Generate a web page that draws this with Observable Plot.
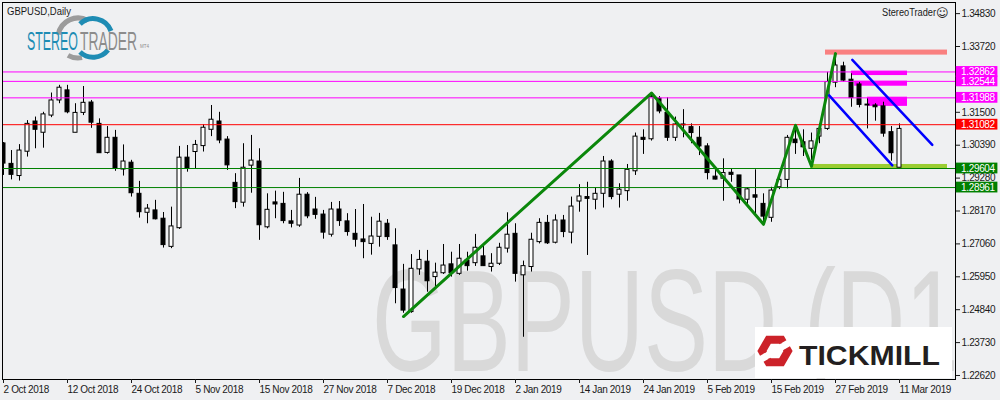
<!DOCTYPE html>
<html><head><meta charset="utf-8">
<script src="https://cdn.jsdelivr.net/npm/d3@7"></script>
<script src="https://cdn.jsdelivr.net/npm/@observablehq/plot@0.6"></script>
<style>
html,body{margin:0;padding:0;background:#eff0f2;}
#wrap{position:relative;width:1000px;height:400px;overflow:hidden;background:#eff0f2;font-family:"Liberation Sans",Arial,sans-serif;}
#wm{position:absolute;left:2px;top:2px;width:953px;height:377px;overflow:hidden;}
#chart{position:absolute;left:0;top:0;}
#over{position:absolute;left:0;top:0;}
</style></head><body>
<div id="wrap">
  <div id="wm"><svg width="953" height="377"><text transform="translate(370,369) scale(1,1.5)" font-family="Liberation Sans, Arial, sans-serif" font-size="96" fill="#d9d9d9">GBPUSD (D1</text></svg></div>
  <div id="chart"></div>
  <svg id="over" width="1000" height="400">
    <text x="7" y="15" font-family="Liberation Sans, Arial, sans-serif" font-size="10.5" fill="#1a1a1a" textLength="64" lengthAdjust="spacingAndGlyphs">GBPUSD,Daily</text>
    <text x="882" y="16" font-family="Liberation Sans, Arial, sans-serif" font-size="10" fill="#1a1a1a" textLength="54" lengthAdjust="spacingAndGlyphs">StereoTrader</text>
    <text x="936" y="17" font-family="DejaVu Sans, sans-serif" font-size="12" fill="#1a1a1a">☺</text>
    <!-- StereoTrader logo -->
    <path d="M58.3,34.5 A20,20 0 0 1 88,20.7" fill="none" stroke="#9b9b9b" stroke-width="5"/>
    <path d="M82,57.6 A20,20 0 0 1 68,55.3" fill="none" stroke="#9b9b9b" stroke-width="5"/>
    <path d="M80,24 A19,19 0 0 1 111,31" fill="none" stroke="#1e8cb4" stroke-width="5"/>
    <path d="M108,50 A19,19 0 0 1 80,52" fill="none" stroke="#1e8cb4" stroke-width="5"/>
    <text x="27" y="50" font-family="Liberation Sans, Arial, sans-serif" font-size="25" fill="#1e8cb4" textLength="51" lengthAdjust="spacingAndGlyphs">STEREO</text>
    <text x="80" y="50" font-family="Liberation Sans, Arial, sans-serif" font-size="25" fill="#8c8c8c" textLength="57" lengthAdjust="spacingAndGlyphs">TRADER</text>
    <text x="140" y="48" font-family="Liberation Sans, Arial, sans-serif" font-size="4.5" fill="#8c8c8c">MT4</text>
    <!-- Tickmill logo -->
    <rect x="755" y="327" width="197" height="51" fill="#ffffff"/>
    <path d="M788,351 L781.5,362.3 L768.5,362.3 L762,351 L768.5,339.7 L781.5,339.7 Z" fill="none" stroke="#cc2229" stroke-width="8" stroke-dasharray="32 7" stroke-dashoffset="3"/>
    <text x="799" y="365" font-family="Liberation Sans, Arial, sans-serif" font-weight="bold" font-size="28" fill="#231f20" textLength="141" lengthAdjust="spacingAndGlyphs">TICKMILL</text>
  </svg>
</div>
<script>
// ---- data ----
const opens  = [1.3045,1.2976,1.2935,1.3017,1.3119,1.3081,1.3139,1.3190,1.3224,1.3081,1.3148,1.3183,1.3111,1.3013,1.3064,1.2957,1.2980,1.2875,1.2811,1.2819,1.2791,1.2696,1.2759,1.2997,1.3016,1.3036,1.3091,1.3119,1.3058,1.2912,1.2845,1.2970,1.2984,1.2762,1.2846,1.2841,1.2782,1.2768,1.2872,1.2822,1.2805,1.2737,1.2822,1.2782,1.2740,1.2721,1.2706,1.2730,1.2774,1.2701,1.2552,1.2476,1.2620,1.2646,1.2594,1.2607,1.2637,1.2605,1.2650,1.2641,1.2664,1.2628,1.2639,1.2690,1.2740,1.2600,1.2628,1.2712,1.2777,1.2710,1.2785,1.2744,1.2849,1.2864,1.2855,1.2875,1.2984,1.2872,1.2884,1.2951,1.3064,1.3059,1.3196,1.3148,1.3064,1.3106,1.3100,1.3064,1.3035,1.2933,1.2926,1.2946,1.2937,1.2855,1.2870,1.2841,1.2794,1.2897,1.2922,1.3058,1.3049,1.3027,1.3068,1.3094,1.3250,1.3305,1.3260,1.3244,1.3173,1.3173,1.3170,1.3083,1.2963];
const highs  = [1.3048,1.3021,1.3041,1.3122,1.3134,1.3150,1.3215,1.3241,1.3241,1.3179,1.3237,1.3190,1.3128,1.3102,1.3089,1.3040,1.2988,1.2917,1.2839,1.2853,1.2812,1.2830,1.3035,1.3038,1.3055,1.3108,1.3173,1.3150,1.3068,1.2943,1.3044,1.3072,1.3027,1.2875,1.2884,1.2880,1.2819,1.2927,1.2879,1.2863,1.2819,1.2846,1.2849,1.2808,1.2822,1.2839,1.2796,1.2809,1.2788,1.2757,1.2637,1.2670,1.2684,1.2684,1.2641,1.2704,1.2678,1.2704,1.2678,1.2738,1.2704,1.2673,1.2708,1.2811,1.2774,1.2648,1.2742,1.2791,1.2802,1.2804,1.2802,1.2864,1.2906,1.2914,1.2895,1.3001,1.2990,1.2909,1.2974,1.3080,1.3091,1.3213,1.3203,1.3199,1.3134,1.3159,1.3111,1.3102,1.3044,1.2956,1.2993,1.2960,1.2937,1.2895,1.2956,1.2875,1.2897,1.2931,1.3072,1.3100,1.3091,1.3080,1.3111,1.3285,1.3348,1.3319,1.3280,1.3252,1.3196,1.3179,1.3184,1.3102,1.3111];
const lows   = [1.2937,1.2922,1.2918,1.2999,1.3027,1.3029,1.3132,1.3179,1.3145,1.3081,1.3139,1.3096,1.3012,1.3009,1.2951,1.2935,1.2864,1.2793,1.2774,1.2787,1.2692,1.2690,1.2755,1.2948,1.2960,1.3016,1.3068,1.3044,1.2954,1.2825,1.2830,1.2877,1.2718,1.2757,1.2791,1.2774,1.2760,1.2762,1.2791,1.2789,1.2722,1.2729,1.2765,1.2732,1.2695,1.2656,1.2668,1.2695,1.2718,1.2504,1.2472,1.2472,1.2600,1.2543,1.2562,1.2603,1.2594,1.2600,1.2614,1.2630,1.2630,1.2611,1.2633,1.2675,1.2577,1.2391,1.2611,1.2706,1.2704,1.2706,1.2727,1.2706,1.2813,1.2667,1.2821,1.2827,1.2855,1.2827,1.2850,1.2937,1.3008,1.3053,1.3145,1.3052,1.3052,1.3064,1.3044,1.3004,1.2922,1.2922,1.2850,1.2914,1.2841,1.2839,1.2808,1.2779,1.2779,1.2889,1.2892,1.3008,1.3001,1.2988,1.3044,1.3089,1.3233,1.3252,1.3167,1.3165,1.3094,1.3120,1.3066,1.2985,1.2963];
const closes = [1.2977,1.2939,1.3021,1.3111,1.3091,1.3143,1.3190,1.3233,1.3150,1.3148,1.3182,1.3115,1.3012,1.3064,1.2960,1.2984,1.2877,1.2813,1.2825,1.2789,1.2702,1.2765,1.2997,1.2960,1.3040,1.3098,1.3125,1.3055,1.2971,1.2847,1.2963,1.2987,1.2769,1.2821,1.2839,1.2783,1.2774,1.2872,1.2799,1.2804,1.2744,1.2822,1.2783,1.2746,1.2720,1.2712,1.2731,1.2781,1.2729,1.2557,1.2481,1.2622,1.2652,1.2580,1.2609,1.2633,1.2607,1.2656,1.2631,1.2693,1.2631,1.2639,1.2693,1.2737,1.2605,1.2631,1.2720,1.2777,1.2708,1.2785,1.2746,1.2832,1.2866,1.2858,1.2875,1.2984,1.2864,1.2889,1.2956,1.3068,1.3057,1.3201,1.3153,1.3064,1.3109,1.3109,1.3080,1.3035,1.2945,1.2923,1.2945,1.2939,1.2856,1.2890,1.2862,1.2798,1.2886,1.2922,1.3064,1.3046,1.3032,1.3052,1.3094,1.3252,1.3308,1.3257,1.3198,1.3175,1.3176,1.3167,1.3078,1.3012,1.3094];

const tickIdx    = [0,8,16,24,32,40,48,56,64,72,80,88,96,104,112];
const tickLabels = ["2 Oct 2018","12 Oct 2018","24 Oct 2018","5 Nov 2018","15 Nov 2018","27 Nov 2018","7 Dec 2018","19 Dec 2018","2 Jan 2019","14 Jan 2019","24 Jan 2019","5 Feb 2019","15 Feb 2019","27 Feb 2019","11 Mar 2019"];
const priceTicks = [1.22620,1.23730,1.24840,1.25950,1.27060,1.28170,1.29280,1.30390,1.31500,1.33720,1.34830];

const levelPrices = [1.32862,1.32544,1.31988,1.31082,1.29604,1.28961];
const levelKinds  = ["resistance","resistance","resistance","pivot","support","support"];

const zigIdx   = [50,81,95,99,101,104];
const zigPrice = [1.2461,1.3215,1.2772,1.3106,1.2968,1.3348];

const chanId    = ["upper","upper","lower","lower"];
const chanIdx   = [106.1,116.1,103.2,111.1];
const chanPrice = [1.3327,1.3040,1.3207,1.2971];

const zoneKinds = ["peak","resistance","resistance","resistance","support"];
const zoneX1 = [102.75,106,106.4,108,100.9];
const zoneX2 = [118,113,113,113,118];
const zoneLo = [1.3343,1.3274,1.3238,1.3170,1.2960];
const zoneHi = [1.3360,1.3289,1.3255,1.3201,1.2974];

// ---- build ----
const candles = opens.map((o,i)=>({i, open:o, high:highs[i], low:lows[i], close:closes[i]}));
const levels = levelPrices.map((p,k)=>({price:p, kind:levelKinds[k]}));
const zig = zigIdx.map((x,k)=>({x, y:zigPrice[k]}));
const chan = chanIdx.map((x,k)=>({x, y:chanPrice[k], id:chanId[k]}));
const zones = zoneKinds.map((kind,k)=>({kind, x1:zoneX1[k], x2:zoneX2[k], y1:zoneLo[k], y2:zoneHi[k]}));

const levelColor = {resistance:"#ff00ff", pivot:"#ff0000", support:"#008000"};
const zoneColor = {peak:"#f98080", resistance:"#ff00ff", support:"#9acd32"};
const xMin = -0.125, xMax = 119;
const halfBox = 0.00182;

const chart = Plot.plot({
  width:1000, height:400,
  marginLeft:2, marginRight:45, marginTop:2, marginBottom:21,
  style:{background:"transparent", fontFamily:"'Liberation Sans', Arial, sans-serif", fontSize:"10px", letterSpacing:"-0.35px", color:"#1a1a1a", overflow:"visible"},
  x:{type:"linear", domain:[xMin,xMax]},
  y:{domain:[1.22485,1.35205]},
  marks:[
    Plot.rect(zones, {x1:"x1", x2:"x2", y1:"y1", y2:"y2", fill:d=>zoneColor[d.kind]}),
    Plot.ruleX(candles, {x:"i", y1:"low", y2:"high", stroke:"#000", clip:"frame"}),
    Plot.rect(candles, {x1:d=>d.i-0.25, x2:d=>d.i+0.25, y1:"open", y2:"close", fill:d=>d.close>=d.open?"#ffffff":"#000000", stroke:"#000", clip:"frame"}),
    Plot.ruleY(levels, {y:"price", stroke:d=>levelColor[d.kind]}),
    Plot.line(zig, {x:"x", y:"y", stroke:"#0b870b", strokeWidth:3}),
    Plot.line(chan, {x:"x", y:"y", z:"id", stroke:"#0000ff", strokeWidth:2.5}),
    Plot.frame({stroke:"#000"}),
    Plot.axisY({anchor:"right", ticks:priceTicks, tickFormat:d=>d.toFixed(5), tickSize:4, tickPadding:2, label:null}),
    Plot.axisX({anchor:"bottom", ticks:tickIdx, tickFormat:d=>tickLabels[tickIdx.indexOf(d)], tickSize:4, tickPadding:2, textAnchor:"start", label:null}),
    Plot.rect(levels, {x1:()=>xMax+0.1, x2:()=>xMax+5.3, y1:d=>d.price-halfBox, y2:d=>d.price+halfBox, fill:d=>levelColor[d.kind]}),
    Plot.text(levels, {x:()=>xMax+0.7, y:"price", text:d=>d.price.toFixed(5), fill:"#ffffff", textAnchor:"start"})
  ]
});
document.getElementById("chart").appendChild(chart);
</script>
</body></html>
